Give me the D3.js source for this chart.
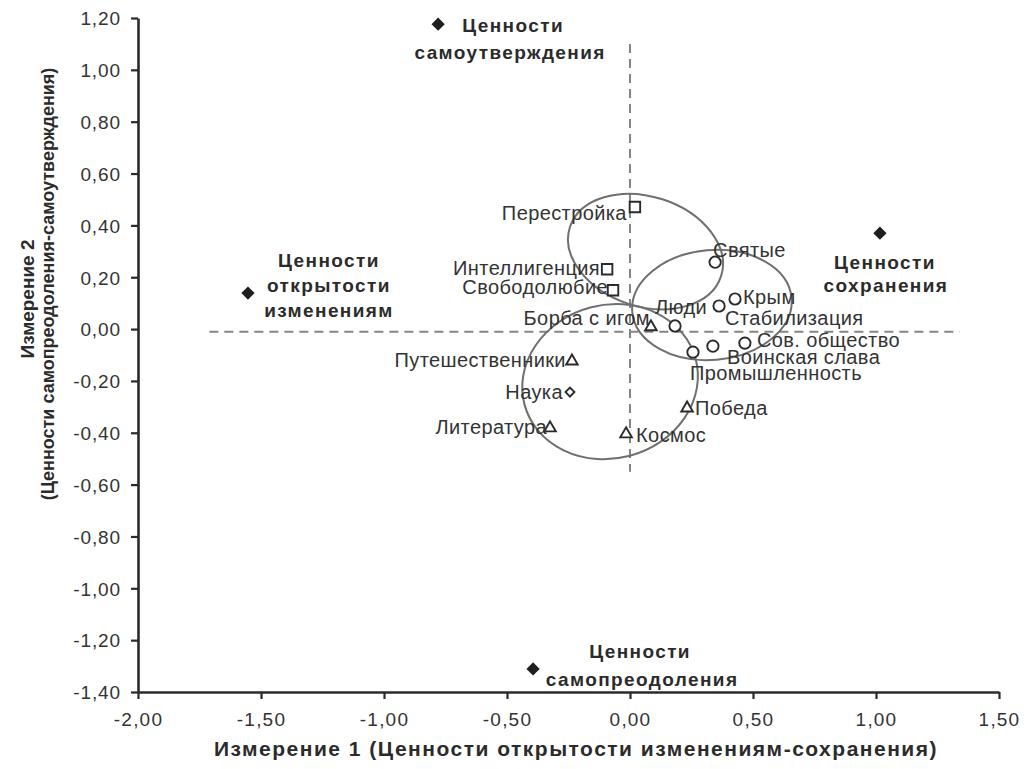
<!DOCTYPE html>
<html><head><meta charset="utf-8">
<script src="https://cdn.jsdelivr.net/npm/d3@7"></script>
<style>
html,body{margin:0;padding:0;background:#fff;}
svg{display:block;}
</style></head>
<body>
<svg id="chart" width="1032" height="769"></svg>
<script>
// ---------- DATA ----------
const xTicks = [-2.0, -1.5, -1.0, -0.5, 0.0, 0.5, 1.0, 1.5];
const yTicks = [-1.4, -1.2, -1.0, -0.8, -0.6, -0.4, -0.2, 0.0, 0.2, 0.4, 0.6, 0.8, 1.0, 1.2];

const poleNames = ["Ценности|самоутверждения", "Ценности|открытости|изменениям", "Ценности|сохранения", "Ценности|самопреодоления"];
const poleX = [-0.780, -1.553, 1.016, -0.394];
const poleY = [1.176, 0.139, 0.370, -1.311];

const squareNames = ["Перестройка", "Интеллигенция", "Свободолюбие"];
const squareX = [0.020, -0.093, -0.069];
const squareY = [0.471, 0.231, 0.150];

const circleNames = ["Святые", "Крым", "Люди", "Стабилизация", "Сов. общество", "Воинская слава", "Промышленность"];
const circleX = [0.346, 0.427, 0.362, 0.183, 0.467, 0.337, 0.256];
const circleY = [0.258, 0.116, 0.089, 0.012, -0.054, -0.066, -0.089];

const triangleNames = ["Борба с игом", "Путешественники", "Литература", "Космос", "Победа"];
const triangleX = [0.085, -0.236, -0.325, -0.016, 0.232];
const triangleY = [0.012, -0.120, -0.378, -0.401, -0.301];

const diamondNames = ["Наука"];
const diamondX = [-0.244];
const diamondY = [-0.243];

// group ellipses: centre (x, y), radii in axis units, tilt in degrees
const ellipseCX = [0.063, 0.333, -0.081];
const ellipseCY = [0.299, 0.093, -0.203];
const ellipseRX = [0.323, 0.325, 0.360];
const ellipseRY = [0.212, 0.212, 0.296];
const ellipseTilt = [18, -5, -15];

const xTitle = "Измерение 1 (Ценности открытости изменениям-сохранения)";
const yTitle1 = "Измерение 2";
const yTitle2 = "(Ценности самопреодоления-самоутверждения)";

// ---------- LAYOUT / STYLE ----------
const labelPos = {
  "Перестройка": ["end", -8, 6],
  "Интеллигенция": ["end", -7, -1],
  "Свободолюбие": ["end", -5, -3],
  "Борба с игом": ["end", -1, -8],
  "Люди": ["end", -12, 1],
  "Крым": ["start", 8, -2],
  "Стабилизация": ["start", 50, -8],
  "Сов. общество": ["start", 12, -3],
  "Воинская слава": ["start", 14, 11],
  "Промышленность": ["start", -3, 21],
  "Святые": ["start", -2, -12],
  "Победа": ["start", 8, 1],
  "Космос": ["start", 10, 2],
  "Литература": ["end", -3, 0],
  "Наука": ["end", -7, 0],
  "Путешественники": ["end", -6, 0]
};
const polePos = [
  [[75, 1], [72, 28]],
  [[81, -33], [81, -8], [81, 17]],
  [[5, 29], [6, 52]],
  [[107, -17], [109, 11]]
];

const ink = "#2b2b2b";
const svg = d3.select("#chart");
const x = d3.scaleLinear().domain([-2, 1.5]).range([138, 999]);
const y = d3.scaleLinear().domain([-1.4, 1.2]).range([692, 18]);
const fmt = v => (Math.abs(v) < 1e-9 ? 0 : v).toFixed(2).replace(".", ",");

// reference dashed lines
svg.append("line").attr("x1", x(-1.71)).attr("x2", x(1.34)).attr("y1", y(-0.01)).attr("y2", y(-0.01))
  .attr("stroke", "#858585").attr("stroke-width", 2).attr("stroke-dasharray", "9,6");
svg.append("line").attr("x1", x(0)).attr("x2", x(0)).attr("y1", y(1.1)).attr("y2", y(-0.55))
  .attr("stroke", "#858585").attr("stroke-width", 2).attr("stroke-dasharray", "9,6");

// axes
const xAxis = svg.append("g").attr("transform", `translate(0,${y(-1.4)})`)
  .call(d3.axisBottom(x).tickValues(xTicks).tickFormat(fmt).tickSize(7).tickSizeOuter(0));
const yAxis = svg.append("g").attr("transform", `translate(${x(-2)},0)`)
  .call(d3.axisLeft(y).tickValues(yTicks).tickFormat(fmt).tickSize(7).tickSizeOuter(0));
[xAxis, yAxis].forEach(g => {
  g.select(".domain").attr("stroke", ink).attr("stroke-width", 2.6);
  g.selectAll(".tick line").attr("stroke", ink).attr("stroke-width", 2.2);
  g.selectAll(".tick text").attr("fill", "#333").attr("font-family", "'Liberation Sans', Arial, sans-serif")
    .attr("font-size", 19);
});
xAxis.selectAll(".tick text").attr("dy", 0).attr("y", 34).attr("letter-spacing", 1.2);
yAxis.selectAll(".tick text").attr("x", -17).attr("dy", "0.36em").attr("letter-spacing", 0.9);

// ellipses
const ell = ellipseCX.map((cx, i) => ({cx, cy: ellipseCY[i], rx: ellipseRX[i], ry: ellipseRY[i], t: ellipseTilt[i]}));
svg.append("g").selectAll("ellipse").data(ell).join("ellipse")
  .attr("transform", d => `translate(${x(d.cx)},${y(d.cy)}) rotate(${d.t})`)
  .attr("rx", d => x(d.rx) - x(0)).attr("ry", d => y(0) - y(d.ry))
  .attr("fill", "none").attr("stroke", "#6f6f6f").attr("stroke-width", 2);

// markers
const zip = (names, xs, ys, kind) => names.map((n, i) => ({name: n, x: xs[i], y: ys[i], kind}));
const pts = [].concat(
  zip(squareNames, squareX, squareY, "square"),
  zip(circleNames, circleX, circleY, "circle"),
  zip(triangleNames, triangleX, triangleY, "triangle"),
  zip(diamondNames, diamondX, diamondY, "diamond"));
const symPath = {
  square: d3.symbol(d3.symbolSquare, 110)(),
  circle: d3.symbol(d3.symbolCircle, 100)(),
  triangle: d3.symbol(d3.symbolTriangle, 58)(),
  diamond: d3.symbol(d3.symbolSquare, 40)()
};
const mk = svg.append("g");
mk.selectAll("path").data(pts).join("path")
  .attr("d", d => symPath[d.kind])
  .attr("transform", d => `translate(${x(d.x)},${y(d.y)})` + (d.kind === "diamond" ? " rotate(45)" : "") + (d.kind === "triangle" ? " translate(0,1)" : ""))
  .attr("fill", "#fff").attr("stroke", ink).attr("stroke-width", 1.9);

// point labels
svg.append("g").selectAll("text").data(pts).join("text")
  .attr("x", d => x(d.x) + labelPos[d.name][1])
  .attr("y", d => y(d.y) + labelPos[d.name][2])
  .attr("text-anchor", d => labelPos[d.name][0])
  .attr("dominant-baseline", "central")
  .attr("font-family", "'Liberation Sans', Arial, sans-serif").attr("font-size", 20)
  .attr("letter-spacing", 0.4).attr("fill", "#333")
  .text(d => d.name);

// poles
const poles = poleNames.map((n, i) => ({lines: n.split("|"), x: poleX[i], y: poleY[i], i}));
const pg = svg.append("g");
pg.selectAll("path").data(poles).join("path")
  .attr("d", d3.symbol(d3.symbolSquare, 88)())
  .attr("transform", d => `translate(${x(d.x)},${y(d.y)}) rotate(45)`)
  .attr("fill", "#1e1e1e");
poles.forEach(p => {
  p.lines.forEach((ln, j) => {
    pg.append("text")
      .attr("x", x(p.x) + polePos[p.i][j][0]).attr("y", y(p.y) + polePos[p.i][j][1])
      .attr("text-anchor", "middle").attr("dominant-baseline", "central")
      .attr("font-family", "'Liberation Sans', Arial, sans-serif").attr("font-weight", "bold")
      .attr("font-size", 19).attr("letter-spacing", 1.4).attr("fill", "#2b2b2b")
      .text(ln);
  });
});

// axis titles
svg.append("text").attr("x", 576).attr("y", 748).attr("text-anchor", "middle").attr("dominant-baseline", "central")
  .attr("font-family", "'Liberation Sans', Arial, sans-serif").attr("font-weight", "bold").attr("font-size", 21)
  .attr("letter-spacing", 1.5).attr("fill", "#2b2b2b").text(xTitle);
svg.append("text").attr("transform", "translate(27,299) rotate(-90)").attr("text-anchor", "middle").attr("dominant-baseline", "central")
  .attr("font-family", "'Liberation Sans', Arial, sans-serif").attr("font-weight", "bold").attr("font-size", 19)
  .attr("fill", "#2b2b2b").text(yTitle1);
svg.append("text").attr("transform", "translate(48,284) rotate(-90)").attr("text-anchor", "middle").attr("dominant-baseline", "central")
  .attr("font-family", "'Liberation Sans', Arial, sans-serif").attr("font-weight", "bold").attr("font-size", 18)
  .attr("fill", "#2b2b2b").text(yTitle2);
</script>
</body></html>
